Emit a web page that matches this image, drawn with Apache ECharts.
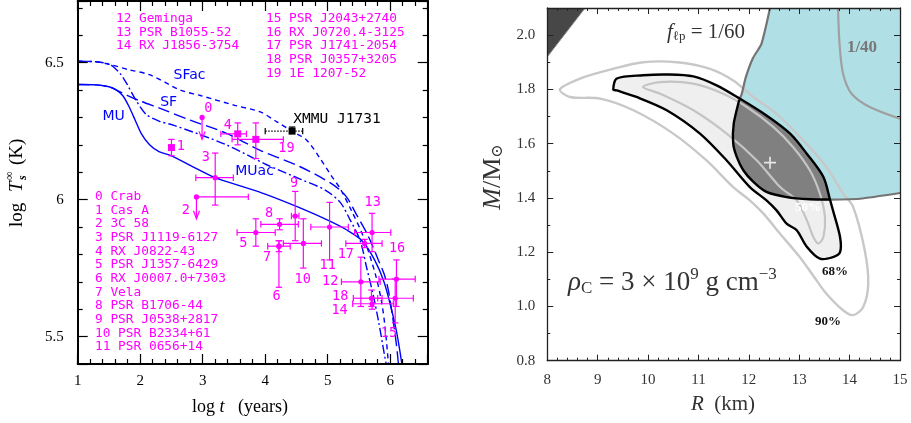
<!DOCTYPE html>
<html><head><meta charset="utf-8">
<script src="https://cdn.jsdelivr.net/npm/echarts@6/dist/echarts.min.js"></script>
<style>html,body{margin:0;padding:0;background:#fff}#c{width:911px;height:423px}</style>
</head><body><div id="c"></div>
<script>
// ================= LEFT PANEL DATA =================
const srcNames = ['Crab','Cas A','3C 58','PSR J1119-6127','RX J0822-43','PSR J1357-6429','RX J0007.0+7303','Vela',
  'PSR B1706-44','PSR J0538+2817','PSR B2334+61','PSR 0656+14','Geminga','PSR B1055-52','RX J1856-3754',
  'PSR J2043+2740','RX J0720.4-3125','PSR J1741-2054','PSR J0357+3205','1E 1207-52'];
const srcTags = ['0','1','2','3','4','5','6','7','8','9','10','11','12','13','14','15','16','17','18','19','XMMU J1731'];
const logAge   = [2.99,2.50,2.90,3.20,3.56,3.85,4.22,4.22,4.23,4.48,4.61,5.03,5.53,5.71,5.71,6.08,6.10,5.59,5.70,3.85,4.43];
const logTemp  = [6.30,6.19,6.01,6.08,6.24,5.88,5.83,5.83,5.91,5.94,5.84,5.90,5.70,5.88,5.62,5.64,5.71,5.84,5.64,6.22,6.25];
const ageLow   = [null,null,2.90,2.89,3.29,3.55,null,4.04,3.93,4.42,4.29,4.73,5.22,5.43,5.40,5.80,5.82,5.29,5.41,3.47,4.00];
const ageHigh  = [null,null,3.73,3.49,3.70,4.16,null,4.40,4.53,4.54,4.90,5.33,5.84,6.01,6.05,6.37,6.40,5.87,5.87,4.29,4.60];
const tempLow  = [6.22,6.16,5.93,5.98,6.20,5.83,5.68,5.81,5.89,5.85,5.75,5.78,5.61,5.81,5.60,5.55,5.61,5.825,5.61,6.15,6.25];
const tempHigh = [null,6.22,null,6.17,6.28,5.93,5.85,5.85,5.93,6.03,5.93,5.99,5.79,5.95,5.64,5.71,5.78,5.855,5.67,6.28,6.265];
const upperLimit = [true,false,true,false,false,false,false,false,false,false,false,false,false,false,false,false,false,false,false,false,false];
const markerKind = ['circle','square','circle','circle','square','circle','circle','circle','circle','circle','circle',
  'circle','circle','circle','circle','circle','circle','circle','circle','square','square'];
const labelAge  = [3.09,2.65,2.73,3.05,3.40,3.65,4.18,4.03,4.06,4.46,4.60,5.00,5.04,5.72,5.19,5.98,6.11,5.29,5.20,4.34,4.45];
const labelTemp = [6.334,6.195,5.96,6.155,6.27,5.84,5.646,5.79,5.95,6.06,5.71,5.76,5.70,5.99,5.594,5.51,5.82,5.80,5.645,6.185,6.295];

// cooling curves
const muAge  = [1.0,1.3,1.5,1.62,1.72,1.82,1.92,2.02,2.15,2.3,2.5,2.8,3.2,3.6,4.0,4.5,5.0,5.3,5.55,5.75,5.9,6.02,6.1,6.16,6.2];
const muTemp = [6.42,6.419,6.412,6.40,6.38,6.34,6.29,6.24,6.20,6.175,6.16,6.125,6.08,6.05,6.02,5.975,5.925,5.89,5.85,5.78,5.70,5.60,5.52,5.44,5.38];
const sfAge  = [1.0,1.3,1.5,1.62,1.8,2.0,2.32,2.8,3.38,3.92,4.56,5.09,5.3,5.45,5.62,5.72,5.81,5.9,5.97,6.04,6.1,6.14];
const sfTemp = [6.42,6.419,6.412,6.40,6.38,6.36,6.333,6.29,6.242,6.18,6.12,6.054,6.01,5.95,5.88,5.83,5.78,5.73,5.67,5.57,5.47,5.38];
const sfacAge  = [1.0,1.3,1.57,1.8,2.16,2.64,2.96,3.5,3.92,4.18,4.43,4.66,4.88,5.05,5.2,5.38,5.57,5.76,5.86,5.92,5.98];
const sfacTemp = [6.505,6.503,6.49,6.475,6.455,6.40,6.38,6.345,6.32,6.285,6.25,6.218,6.15,6.09,6.04,5.96,5.865,5.73,5.63,5.53,5.38];
const muacAge  = [1.0,1.3,1.5,1.57,1.68,1.78,1.94,2.1,2.32,2.53,3.38,4.0,4.56,4.96,5.2,5.35,5.52,5.62,5.73,5.81,5.88,5.95];
const muacTemp = [6.505,6.503,6.495,6.485,6.46,6.425,6.36,6.31,6.285,6.272,6.20,6.13,6.075,6.035,5.99,5.93,5.85,5.755,5.65,5.56,5.47,5.38];
const curveNames = ['MU','SF','SFac','MUac'];
const curveLabelAge  = [1.576,2.456,2.79,3.83];
const curveLabelTemp = [6.303,6.354,6.455,6.102];

// ================= RIGHT PANEL DATA =================
const c90R = [8.25,8.65,9.31,9.90,10.57,11.23,11.69,12.09,12.55,13.08,13.54,13.87,14.07,14.30,14.37,14.27,14.07,13.87,13.54,13.34,13.01,12.62,12.29,12.02,11.69,11.16,10.50,9.71,9.05,8.45];
const c90M = [1.80,1.84,1.876,1.90,1.90,1.876,1.833,1.772,1.71,1.612,1.514,1.416,1.367,1.207,1.084,0.998,0.968,0.986,1.047,1.097,1.182,1.268,1.342,1.391,1.44,1.538,1.637,1.723,1.766,1.772];
const c68R = [9.31,9.38,9.90,10.37,10.90,11.36,11.82,12.35,12.82,13.15,13.48,13.61,13.67,13.81,13.81,13.67,13.41,13.15,12.95,12.75,12.55,12.35,12.02,11.56,11.03,10.37,9.77,9.38];
const c68M = [1.80,1.84,1.852,1.855,1.848,1.815,1.766,1.704,1.637,1.563,1.477,1.394,1.354,1.256,1.20,1.182,1.176,1.22,1.281,1.305,1.354,1.391,1.44,1.538,1.637,1.723,1.772,1.796];
const c50R = [9.90,10.24,10.90,11.49,11.96,12.49,12.88,13.21,13.41,13.51,13.48,13.38,13.28,13.15,12.95,12.62,12.16,11.56,10.90,10.24];
const c50M = [1.809,1.827,1.821,1.784,1.735,1.661,1.587,1.502,1.416,1.33,1.256,1.232,1.256,1.318,1.391,1.44,1.538,1.637,1.723,1.784];
// f_lp = 1/60 boundary (upper part, inner part, lower part)
const b60UpR = [12.42,12.25,12.08,11.94,11.86,11.81];
const b60UpM = [2.10,1.968,1.915,1.845,1.784,1.762];
const b60MidR = [11.81,11.70,11.69,11.76,11.89,12.09,12.35,12.75,13.21,13.61];
const b60MidM = [1.762,1.674,1.60,1.551,1.502,1.459,1.422,1.403,1.395,1.394];
const b60LowR = [13.61,14.2,15.0];
const b60LowM = [1.394,1.397,1.418];
const b40R = [13.77,13.80,13.87,14.04,14.40,15.0];
const b40M = [2.10,1.968,1.858,1.784,1.735,1.692];
const overlapUpR = [11.81,12.35,12.82,13.15,13.48,13.61];
const overlapUpM = [1.762,1.704,1.637,1.563,1.477,1.394];
const excludedR = [8.0,8.75,8.0];
const excludedM = [2.10,2.10,1.92];
const bestFit = [12.42,1.53];

// ================= HELPERS =================
const MAG = '#ff00ff', BLUE = '#0000ff';
const SERIF = '"Liberation Serif","DejaVu Serif",serif';
const MONO = '"DejaVu Sans Mono",monospace';

function zipPts(xs, ys){ return xs.map((x,i)=>[x, ys[i]]); }

function shapeSeries(xs, ys, o) {
  return {
    type:'custom', xAxisIndex:2, yAxisIndex:2, z:o.z, silent:true, clip:true,
    data:[[xs[0], ys[0]]],
    renderItem:function(params, api){
      const pts = xs.map((x,k)=>api.coord([x, ys[k]]));
      return {type:o.closed?'polygon':'polyline', shape:{points:pts, smooth:o.smooth||0},
        style:{fill:o.fill||'none', stroke:o.stroke||'none', lineWidth:o.lw||0, lineJoin:'round'}};
    }
  };
}

function lineAxis(ax){ return Object.assign({type:'value', z:10, splitLine:{show:false}}, ax); }

function leftCommon(pos, labels, isX){
  return {
    position:pos,
    axisLine:{show:true, onZero:false, lineStyle:{color:'#000', width:2}},
    axisTick:{show:true, inside:true, length:10, lineStyle:{color:'#000', width:1.2}},
    minorTick:{show:true, splitNumber:5, length:5, lineStyle:{color:'#000', width:1.2}},
    axisLabel:{show:labels, color:'#000', fontFamily:SERIF, fontSize:15, margin:isX?10:14,
      showMinLabel:true, showMaxLabel:true,
      formatter:isX ? (v=>Math.abs(v-Math.round(v))<1e-6 ? String(Math.round(v)) : '')
                    : (v=>Math.abs(v*2-Math.round(v*2))<1e-6 ? String(v) : '')}
  };
}
function rightCommon(pos, labels, isX){
  return {
    position:pos,
    axisLine:{show:true, onZero:false, lineStyle:{color:'#222', width:1.3}},
    axisTick:{show:true, inside:true, length:6, lineStyle:{color:'#222', width:1}},
    minorTick:{show:true, splitNumber:isX?5:2, length:3, lineStyle:{color:'#222', width:1}},
    axisLabel:{show:labels, color:'#333', fontFamily:SERIF, fontSize:15, margin:isX?12:12,
      formatter:isX ? (v=>Math.abs(v-Math.round(v))<1e-6 ? String(Math.round(v)) : '')
                    : (v=>Math.abs(v/0.2-Math.round(v/0.2))<1e-6 ? v.toFixed(1) : '')}
  };
}

const chart = echarts.init(document.getElementById('c'), null, {renderer:'canvas'});

const srcData = logAge.map((t,i)=>[t, logTemp[i], i]);

function renderSource(params, api){
  const i = api.value(2);
  const col = i === 20 ? '#000' : MAG;
  const p = api.coord([logAge[i], logTemp[i]]);
  const ch = [];
  const cap = 3.2, lw = 1.2;
  const ln = (x1,y1,x2,y2,dash)=>ch.push({type:'line', shape:{x1,y1,x2,y2}, style:{stroke:col, lineWidth:lw, lineDash:dash||null}});
  if (ageLow[i] != null) {
    const a = api.coord([ageLow[i], logTemp[i]]), b = api.coord([ageHigh[i], logTemp[i]]);
    const dash = i === 20 ? [1.5,1.5] : null;
    ln(a[0],a[1],b[0],b[1],dash);
    if (ageLow[i] !== logAge[i]) ln(a[0],a[1]-cap,a[0],a[1]+cap);
    ln(b[0],b[1]-cap,b[0],b[1]+cap);
  }
  if (upperLimit[i]) {
    const e = api.coord([logAge[i], tempLow[i]]);
    ln(p[0],p[1],e[0],e[1]);
    ch.push({type:'polyline', shape:{points:[[e[0]-3,e[1]-8],[e[0],e[1]],[e[0]+3,e[1]-8]]}, style:{stroke:col, lineWidth:lw, fill:'none'}});
  } else if (tempLow[i] != null) {
    const lo = api.coord([logAge[i], tempLow[i]]), hi = api.coord([logAge[i], tempHigh[i]]);
    ln(lo[0],lo[1],hi[0],hi[1]);
    if (i !== 20) ln(lo[0]-cap,lo[1],lo[0]+cap,lo[1]);
    ln(hi[0]-cap,hi[1],hi[0]+cap,hi[1]);
  }
  if (markerKind[i] === 'square') {
    ch.push({type:'rect', shape:{x:p[0]-3.5,y:p[1]-3.5,width:7,height:7}, style:{fill:col}});
  } else {
    ch.push({type:'circle', shape:{cx:p[0],cy:p[1],r:2.6}, style:{fill:col}});
  }
  return {type:'group', children:ch};
}

function renderSrcLabel(params, api){
  const i = api.value(2);
  const c = api.coord([labelAge[i], labelTemp[i]]);
  const isX = i === 20;
  return {type:'text', x:c[0], y:c[1], style:{text:srcTags[i], fill:isX?'#000':MAG,
    font:(isX?'14.5px ':'13.5px ')+MONO, align:isX?'left':'center', verticalAlign:'middle'}};
}

const curveSeries = [
  {age:muAge, temp:muTemp, type:'solid'},
  {age:sfAge, temp:sfTemp, type:[12,5]},
  {age:sfacAge, temp:sfacTemp, type:[5,4]},
  {age:muacAge, temp:muacTemp, type:[9,3,2,3]}
].map(c=>({type:'line', xAxisIndex:0, yAxisIndex:0, data:zipPts(c.age,c.temp), showSymbol:false, symbol:'none',
  smooth:0.3, clip:true, silent:true, z:3, lineStyle:{color:BLUE, width:1.4, type:c.type}}));

const legendBottom = srcNames.slice(0,12).map((n,i)=>i+' '+n).join('\n');
const legendTop1 = srcNames.slice(12,15).map((n,i)=>(i+12)+' '+n).join('\n');
const legendTop2 = srcNames.slice(15,20).map((n,i)=>(i+15)+' '+n).join('\n');

const option = {
  animation:false,
  backgroundColor:'#fff',
  grid:[
    {left:77.7, top:1, width:350, height:363, outerBoundsMode:'none'},
    {left:547.3, top:8, width:352.7, height:352.7, outerBoundsMode:'none'}
  ],
  xAxis:[
    lineAxis(Object.assign({gridIndex:0, min:1, max:6.6, interval:1}, leftCommon('bottom', true, true))),
    lineAxis(Object.assign({gridIndex:0, min:1, max:6.6, interval:1}, leftCommon('top', false, true))),
    lineAxis(Object.assign({gridIndex:1, min:8, max:15, interval:1}, rightCommon('bottom', true, true))),
    lineAxis(Object.assign({gridIndex:1, min:8, max:15, interval:1}, rightCommon('top', false, true)))
  ],
  yAxis:[
    lineAxis(Object.assign({gridIndex:0, min:5.4, max:6.725, splitNumber:3, minInterval:0.5, maxInterval:0.5}, leftCommon('left', true, false))),
    lineAxis(Object.assign({gridIndex:0, min:5.4, max:6.725, splitNumber:3, minInterval:0.5, maxInterval:0.5}, leftCommon('right', false, false))),
    lineAxis(Object.assign({gridIndex:1, min:0.8, max:2.1, interval:0.2}, rightCommon('left', true, false))),
    lineAxis(Object.assign({gridIndex:1, min:0.8, max:2.1, interval:0.2}, rightCommon('right', false, false)))
  ],
  series:[
    ...curveSeries,
    {type:'custom', xAxisIndex:0, yAxisIndex:0, data:srcData, renderItem:renderSource, z:5, silent:true, clip:true},
    {type:'custom', xAxisIndex:0, yAxisIndex:0, data:srcData, renderItem:renderSrcLabel, z:6, silent:true},
    {type:'custom', xAxisIndex:0, yAxisIndex:0, data:curveNames.map((n,i)=>[curveLabelAge[i], curveLabelTemp[i], i]), z:6, silent:true,
      renderItem:(p,api)=>{const i=api.value(2); const c=api.coord([curveLabelAge[i],curveLabelTemp[i]]);
        return {type:'text', x:c[0], y:c[1], style:{text:curveNames[i], fill:BLUE, font:'14px "DejaVu Sans"', align:'center', verticalAlign:'middle'}};}},
    // right panel
    shapeSeries(b60UpR.concat(b60MidR.slice(1), b60LowR.slice(1), [15.0]), b60UpM.concat(b60MidM.slice(1), b60LowM.slice(1), [2.1]),
      {closed:true, fill:'#b0e0e6', z:1}),
    shapeSeries(excludedR, excludedM, {closed:true, fill:'#474747', stroke:'#8a8a8a', lw:1, z:1}),
    shapeSeries(c68R, c68M, {closed:true, fill:'#efefef', smooth:0.3, z:2}),
    shapeSeries(overlapUpR.concat(b60MidR.slice().reverse().slice(1)), overlapUpM.concat(b60MidM.slice().reverse().slice(1)),
      {closed:true, fill:'#808080', smooth:0.2, z:3}),
    shapeSeries(c90R, c90M, {closed:true, stroke:'#c8c8c8', lw:2.4, smooth:0.3, z:4}),
    shapeSeries(c50R, c50M, {closed:true, stroke:'#c4c4c4', lw:2.2, smooth:0.3, z:4}),
    shapeSeries(b60UpR, b60UpM, {stroke:'#747474', lw:2.2, smooth:0.2, z:5}),
    shapeSeries(b60LowR, b60LowM, {stroke:'#747474', lw:2.2, smooth:0.2, z:5}),
    shapeSeries(b40R, b40M, {stroke:'#a0a0a0', lw:2.2, smooth:0.3, z:5}),
    shapeSeries(b60MidR, b60MidM, {stroke:'#000', lw:2.4, smooth:0.2, z:6}),
    shapeSeries(c68R, c68M, {closed:true, stroke:'#000', lw:2.4, smooth:0.3, z:6}),
    {type:'scatter', xAxisIndex:2, yAxisIndex:2, data:[bestFit], z:8, silent:true,
      symbol:'path://M4.3,0H5.7V4.3H10V5.7H5.7V10H4.3V5.7H0V4.3H4.3Z', symbolSize:12, itemStyle:{color:'#fff'}}
  ],
  graphic:[
    {type:'text', x:116, y:12, z:20, style:{text:legendTop1, fill:MAG, font:'12.8px '+MONO, lineHeight:13.6, verticalAlign:'top'}},
    {type:'text', x:266, y:12, z:20, style:{text:legendTop2, fill:MAG, font:'12.8px '+MONO, lineHeight:13.6, verticalAlign:'top'}},
    {type:'text', x:95, y:190, z:20, style:{text:legendBottom, fill:MAG, font:'12.8px '+MONO, lineHeight:13.64, verticalAlign:'top'}},
    {type:'text', x:240, y:407, z:20, style:{text:'{n|log }{i|t}{n|   (years)}', align:'center', verticalAlign:'middle',
      rich:{n:{font:'18px '+SERIF, fill:'#000'}, i:{font:'italic 18px '+SERIF, fill:'#000'}}}},
    {type:'group', x:17, y:184, rotation:Math.PI/2, z:20, children:[
      {type:'text', x:-43, y:0, style:{text:'log', font:'19px '+SERIF, fill:'#000', align:'left', verticalAlign:'middle'}},
      {type:'text', x:-8, y:0, style:{text:'T', font:'italic 19px '+SERIF, fill:'#000', align:'left', verticalAlign:'middle'}},
      {type:'text', x:4, y:-7, style:{text:'∞', font:'12px '+SERIF, fill:'#000', align:'left', verticalAlign:'middle'}},
      {type:'text', x:4, y:6, style:{text:'s', font:'italic bold 12px '+SERIF, fill:'#000', align:'left', verticalAlign:'middle'}},
      {type:'text', x:19, y:0, style:{text:'(K)', font:'19px '+SERIF, fill:'#000', align:'left', verticalAlign:'middle'}}
    ]},
    // right panel texts
    {type:'text', x:706, y:32, z:20, style:{text:'{f|f}{s|ℓp}{n| = 1/60}', align:'center', verticalAlign:'middle',
      rich:{f:{font:'italic 21px '+SERIF, fill:'#333'}, s:{font:'13px '+SERIF, fill:'#333', padding:[10,0,0,0]}, n:{font:'21px '+SERIF, fill:'#333'}}}},
    {type:'text', x:862, y:48, z:20, style:{text:'1/40', font:'bold 17px '+SERIF, fill:'#777', align:'center', verticalAlign:'middle'}},
    {type:'text', x:568, y:283, z:20, style:{text:'{i|ρ}{s|C}{n| = 3 × 10}{p|9}{n| g cm}{p|−3}', align:'left', verticalAlign:'middle',
      rich:{i:{font:'italic 27px '+SERIF, fill:'#333'}, s:{font:'17px '+SERIF, fill:'#333', padding:[12,0,0,0]},
        n:{font:'27px '+SERIF, fill:'#333'}, p:{font:'17px '+SERIF, fill:'#333', padding:[0,0,16,0]}}}},
    {type:'text', x:835, y:272, z:20, style:{text:'68%', font:'bold 13px '+SERIF, fill:'#111', align:'center', verticalAlign:'middle'}},
    {type:'text', x:828, y:322, z:20, style:{text:'90%', font:'bold 13px '+SERIF, fill:'#111', align:'center', verticalAlign:'middle'}},
    {type:'text', x:808, y:208, z:20, style:{text:'50%', font:'bold 13px '+SERIF, fill:'#fff', align:'center', verticalAlign:'middle'}},
    {type:'text', x:723, y:404, z:20, style:{text:'{i|R}{n|  (km)}', align:'center', verticalAlign:'middle',
      rich:{i:{font:'italic 21px '+SERIF, fill:'#333'}, n:{font:'21px '+SERIF, fill:'#333'}}}},
    {type:'text', x:493, y:177, rotation:Math.PI/2, z:20, style:{text:'{i|M}{n|/M}{s|⊙}', align:'center', verticalAlign:'middle',
      rich:{i:{font:'italic 26px '+SERIF, fill:'#333'}, n:{font:'26px '+SERIF, fill:'#333'}, s:{font:'16px "DejaVu Serif",serif', fill:'#333', padding:[10,0,0,0]}}}}
  ]
};
chart.setOption(option);
</script></body></html>
